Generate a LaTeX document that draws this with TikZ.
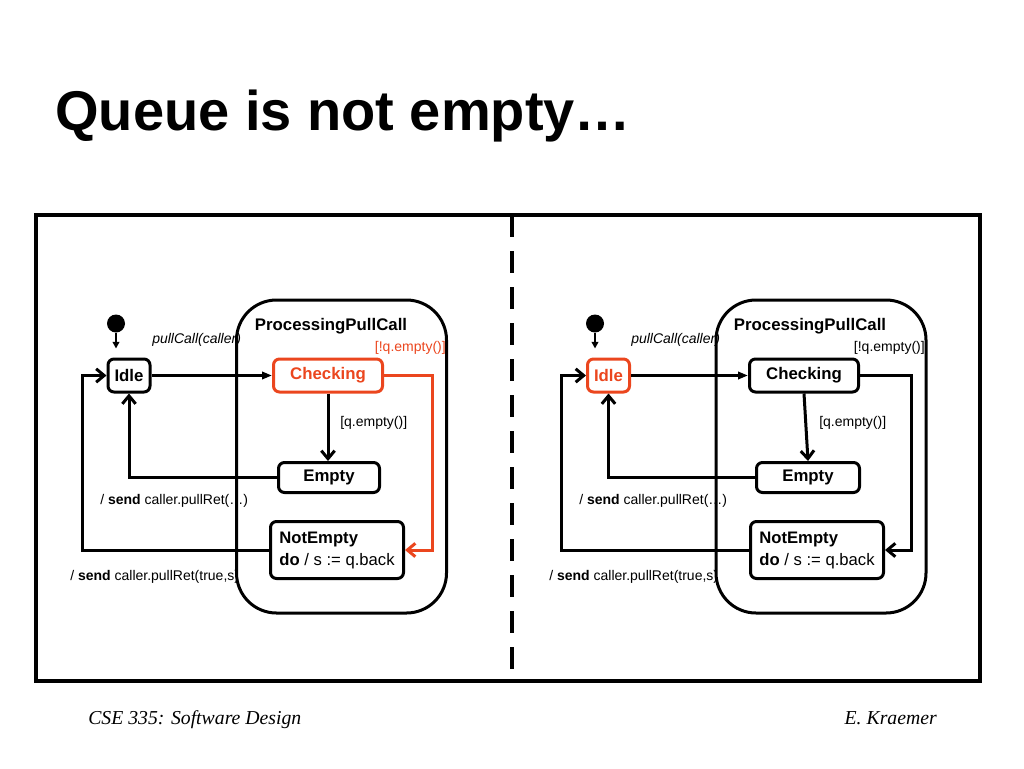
\documentclass[tikz,border=0pt]{standalone}
\usepackage{fontspec}
\setmainfont{Liberation Sans}
\newfontfamily\footfont{Liberation Serif}
\usetikzlibrary{arrows.meta}
\definecolor{hl}{RGB}{235,70,30}
\begin{document}
\begin{tikzpicture}[x=0.75pt,y=-0.75pt,
  stbox/.style={draw, line width=2.25pt, rounded corners=4.5pt, inner sep=0pt,
    font=\fontsize{12.6}{14}\selectfont\bfseries},
  superst/.style={draw, line width=2.25pt, rounded corners=30pt, inner sep=0pt,
    minimum width=157.5pt, minimum height=234.75pt},
  lbl/.style={inner sep=0pt, font=\fontsize{10.5}{12}\selectfont},
  conn/.style={line width=2.25pt},
  barb/.style={-{Straight Barb[length=6pt,width=10pt]}},
  fillarr/.style={-{Triangle[length=7.5pt,width=5.5pt]}},
  initdot/.style={circle, fill, minimum size=13.5pt, inner sep=0pt},
  initarr/.style={line width=1.5pt, -{Triangle[length=5pt,width=5pt]}, shorten >=6.75pt},
  notbox/.style={stbox, align=left, minimum width=99.75pt,
    minimum height=42.75pt, font=\fontsize{12.5}{16.5}\selectfont}
]
\useasboundingbox (0,0) rectangle (1024,768);

% title
\node[anchor=base west, inner sep=0pt, font=\fontsize{42}{48}\selectfont\bfseries] (title) at (55,130) {Queue is not empty…};

% frame and divider
\draw[line width=3pt] (36,215) rectangle (980,681);
\coordinate (dtop) at (512,215);
\coordinate (dbot) at (512,681);
\draw[line width=3pt, dash pattern=on 16.5pt off 10.5pt] (dtop) -- (dbot);

% ================= LEFT =================
\node[superst] (Lsup) at (341.5,456.5) {};
\node[font=\fontsize{12.6}{14}\selectfont\bfseries, inner sep=0pt] (Lsupt) at (331,326) {ProcessingPullCall};
\node[stbox, minimum width=31.5pt, minimum height=24.75pt] (LIdle) at (129,375.5) {Idle};
\node[stbox, draw=hl, text=hl, minimum width=81.75pt, minimum height=24.75pt] (LCheck) at (328,375.5) {Checking};
\node[stbox, minimum width=75.75pt, minimum height=22.5pt] (LEmpty) at (329,477.5) {Empty};
\node[notbox] (LNot) at (337,550) {\textbf{NotEmpty}\\\textbf{do} / s := q.back};
\node[initdot] (Linit) at (116,323.5) {};

\node[lbl, anchor=west, font=\fontsize{10.5}{12}\selectfont\itshape] (Lpc) at (152,340) {pullCall(caller)};
\node[lbl, anchor=east, text=hl] (Lne) at (446,348) {[!q.empty()]};
\node[lbl, anchor=west] (Le) at (340,423) {[q.empty()]};
\node[lbl, anchor=west] (Ls1) at (100,501) {/ \textbf{send} caller.pullRet(…)};
\node[lbl, anchor=west] (Ls2) at (70,577) {/ \textbf{send} caller.pullRet(true,s)};

\draw[initarr] (Linit) -- (Linit |- LIdle.north);
\draw[conn, fillarr] (LIdle) -- (LCheck);
\draw[conn, barb] (LCheck.south) -- (LCheck.south |- LEmpty.north);
\draw[conn, barb] (LEmpty.west) -| (LIdle.south);
\coordinate (Lc1) at (82,550);
\draw[conn, barb] (LNot.west) -- (Lc1) |- (LIdle.west);
\coordinate (Lr) at (432,0);
\draw[conn, hl, barb] (LCheck.east) -- (LCheck.east -| Lr) |- (LNot.east);

% ================= RIGHT =================
\node[superst] (Rsup) at (821,456.5) {};
\node[font=\fontsize{12.6}{14}\selectfont\bfseries, inner sep=0pt] (Rsupt) at (810,326) {ProcessingPullCall};
\node[stbox, draw=hl, text=hl, minimum width=31.5pt, minimum height=24.75pt] (RIdle) at (608.5,375.5) {Idle};
\node[stbox, minimum width=81.75pt, minimum height=24.75pt] (RCheck) at (804,375.5) {Checking};
\node[stbox, minimum width=77.25pt, minimum height=22.5pt] (REmpty) at (808,477.5) {Empty};
\node[notbox] (RNot) at (817,550) {\textbf{NotEmpty}\\\textbf{do} / s := q.back};
\node[initdot] (Rinit) at (595,323.5) {};

\node[lbl, anchor=west, font=\fontsize{10.5}{12}\selectfont\itshape] (Rpc) at (631,340) {pullCall(caller)};
\node[lbl, anchor=east] (Rne) at (925,348) {[!q.empty()]};
\node[lbl, anchor=west] (Re) at (819,423) {[q.empty()]};
\node[lbl, anchor=west] (Rs1) at (579,501) {/ \textbf{send} caller.pullRet(…)};
\node[lbl, anchor=west] (Rs2) at (549,577) {/ \textbf{send} caller.pullRet(true,s)};

\draw[initarr] (Rinit) -- (Rinit |- RIdle.north);
\draw[conn, fillarr] (RIdle) -- (RCheck);
\draw[conn, barb] (RCheck.south) -- (REmpty.north);
\draw[conn, barb] (REmpty.west) -| (RIdle.south);
\coordinate (Rc1) at (561,550);
\draw[conn, barb] (RNot.west) -- (Rc1) |- (RIdle.west);
\coordinate (Rr) at (911,0);
\draw[conn, barb] (RCheck.east) -- (RCheck.east -| Rr) |- (RNot.east);

% footer
\node[anchor=base west, inner sep=0pt, font=\footfont\itshape\fontsize{14.8}{17}\selectfont] (f1) at (88,724) {CSE 335: Software Design};
\node[anchor=base east, inner sep=0pt, font=\footfont\itshape\fontsize{14.8}{17}\selectfont] (f2) at (937,724) {E. Kraemer};
\end{tikzpicture}
\end{document}
